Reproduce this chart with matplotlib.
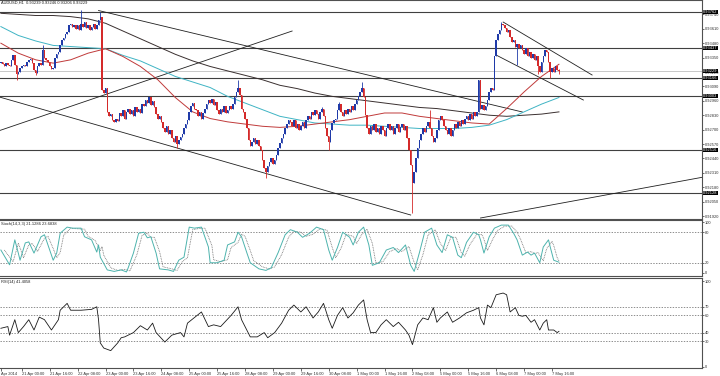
import numpy as np
import pandas as pd
import matplotlib
matplotlib.use('Agg')
import matplotlib.pyplot as plt
import matplotlib.transforms as mtransforms

plt.rcParams['font.family'] = ['Liberation Sans', 'DejaVu Sans']

# H1 closes, AUDUSD (bar 0 = 18 Apr 12:00)
closes = [
    0.9331, 0.9329, 0.9327, 0.9330, 0.9328, 0.9327, 0.9333, 0.9337, 0.9328, 0.9320,
    0.9322, 0.9326, 0.9327, 0.9328, 0.9327, 0.9331, 0.9333, 0.9334, 0.9330, 0.9324,
    0.9321, 0.9327, 0.9330, 0.9328, 0.9342, 0.9335, 0.9333, 0.9331, 0.9327, 0.9325,
    0.9326, 0.9335, 0.9338, 0.9340, 0.9346, 0.9351, 0.9353, 0.9356, 0.9358, 0.9364,
    0.9365, 0.9363, 0.9364, 0.9361, 0.9364, 0.9360, 0.9365, 0.9363, 0.9367, 0.9362,
    0.9364, 0.9360, 0.9363, 0.9365, 0.9361, 0.9364, 0.9369, 0.9372, 0.9306, 0.9303,
    0.9308, 0.9286, 0.9282, 0.9284, 0.9279, 0.9277, 0.9280, 0.9278, 0.9285, 0.9282,
    0.9288, 0.9280, 0.9286, 0.9289, 0.9284, 0.9288, 0.9282, 0.9290, 0.9286, 0.9289,
    0.9285, 0.9293, 0.9291, 0.9297, 0.9294, 0.9299, 0.9292, 0.9296, 0.9290, 0.9284,
    0.9280, 0.9282, 0.9277, 0.9271, 0.9268, 0.9273, 0.9266, 0.9270, 0.9262, 0.9259,
    0.9264, 0.9257, 0.9261, 0.9263, 0.9266, 0.9271, 0.9275, 0.9279, 0.9286, 0.9291,
    0.9294, 0.9289, 0.9288, 0.9282, 0.9286, 0.9280, 0.9285, 0.9289, 0.9293, 0.9297,
    0.9294, 0.9298, 0.9292, 0.9295, 0.9288, 0.9284, 0.9289, 0.9286, 0.9291, 0.9285,
    0.9288, 0.9291, 0.9289, 0.9293, 0.9299, 0.9304, 0.9308, 0.9301, 0.9289, 0.9286,
    0.9280, 0.9271, 0.9261, 0.9255, 0.9259, 0.9262, 0.9257, 0.9261, 0.9255, 0.9252,
    0.9243, 0.9235, 0.9232, 0.9237, 0.9241, 0.9244, 0.9239, 0.9243, 0.9247, 0.9253,
    0.9258, 0.9262, 0.9266, 0.9271, 0.9275, 0.9279, 0.9277, 0.9273, 0.9279, 0.9271,
    0.9275, 0.9270, 0.9273, 0.9277, 0.9271, 0.9279, 0.9282, 0.9280, 0.9286, 0.9283,
    0.9288, 0.9284, 0.9280, 0.9286, 0.9289, 0.9282, 0.9271, 0.9264, 0.9259, 0.9270,
    0.9276, 0.9279, 0.9280, 0.9288, 0.9293, 0.9286, 0.9282, 0.9288, 0.9284, 0.9289,
    0.9286, 0.9291, 0.9288, 0.9293, 0.9297, 0.9300, 0.9304, 0.9308, 0.9299, 0.9283,
    0.9271, 0.9266, 0.9273, 0.9270, 0.9275, 0.9268, 0.9271, 0.9266, 0.9273, 0.9270,
    0.9264, 0.9271, 0.9275, 0.9270, 0.9273, 0.9266, 0.9271, 0.9275, 0.9268, 0.9272,
    0.9275, 0.9270, 0.9273, 0.9262, 0.9252, 0.9238, 0.9222, 0.9232, 0.9244, 0.9253,
    0.9261, 0.9266, 0.9271, 0.9268, 0.9273, 0.9277, 0.9271, 0.9264, 0.9259, 0.9262,
    0.9270, 0.9279, 0.9282, 0.9279, 0.9273, 0.9270, 0.9266, 0.9271, 0.9264, 0.9270,
    0.9275, 0.9271, 0.9277, 0.9273, 0.9279, 0.9275, 0.9280, 0.9282, 0.9279, 0.9284,
    0.9280, 0.9286, 0.9282, 0.9286, 0.9315, 0.9289, 0.9292, 0.9288, 0.9291, 0.9297,
    0.9304, 0.9308, 0.9306, 0.9336, 0.9351, 0.9356, 0.9360, 0.9365, 0.9364, 0.9362,
    0.9358, 0.9360, 0.9354, 0.9349, 0.9351, 0.9345, 0.9347, 0.9344, 0.9346, 0.9342,
    0.9338, 0.9344, 0.9336, 0.9340, 0.9335, 0.9338, 0.9333, 0.9336, 0.9327, 0.9322,
    0.9331, 0.9336, 0.9342, 0.9340, 0.9331, 0.9322, 0.9326, 0.9322, 0.9327, 0.93239, 0.93229,
]
first_open = 0.9330
# visible wick extremes
wick_hi = {24: 0.9346, 46: 0.9378, 57: 0.9376, 136: 0.9315, 184: 0.9290, 194: 0.9295,
           207: 0.9313, 246: 0.9288, 287: 0.9367, 320: 0.93246}
wick_lo = {9: 0.9315, 20: 0.9319, 101: 0.9253, 152: 0.9226, 188: 0.9252, 236: 0.9195,
           296: 0.9328, 308: 0.9320, 315: 0.9317, 320: 0.93206}

# moving averages, read every 10 bars
ma_bars = list(range(0, 321, 10))
ma_red = [0.9348, 0.9339, 0.9333, 0.9330, 0.9333, 0.9339, 0.9343, 0.9336, 0.9327, 0.9315,
          0.9299, 0.9286, 0.9280, 0.9277, 0.9275, 0.9273, 0.9272, 0.9273, 0.9275, 0.9277,
          0.9279, 0.9282, 0.9285, 0.9285, 0.9282, 0.9280, 0.9278, 0.9276, 0.9275, 0.9289,
          0.9304, 0.9318, 0.9329]
ma_cyan = [0.9363, 0.9355, 0.9350, 0.9346, 0.9345, 0.9344, 0.9343, 0.9337, 0.9332, 0.9325,
           0.9318, 0.9313, 0.9308, 0.9300, 0.9294, 0.9288, 0.9282, 0.9279, 0.9276, 0.9275,
           0.9274, 0.9274, 0.9273, 0.9272, 0.9271, 0.9271, 0.9271, 0.9272, 0.9274, 0.9279,
           0.9286, 0.9293, 0.9299]
ma_dark = [0.9375, 0.9374, 0.9373, 0.9373, 0.9372, 0.9370, 0.9366, 0.9359, 0.9352, 0.9345,
           0.9338, 0.9332, 0.9327, 0.9323, 0.9319, 0.9315, 0.9310, 0.9307, 0.9303, 0.9300,
           0.9298, 0.9296, 0.9294, 0.9292, 0.9290, 0.9289, 0.9287, 0.9285, 0.9283, 0.9282,
           0.9283, 0.9284, 0.9286]

levels = [0.93762, 0.93437, 0.93166, 0.93003, 0.92516, 0.92128]
price_ticks = [0.91920, 0.92050, 0.92180, 0.92310, 0.92440, 0.92570, 0.92700, 0.92830,
               0.92960, 0.93090, 0.93220, 0.93350, 0.93480, 0.93610, 0.93740]

# trendlines: (bar, price) end points
trend_lines = [
    ((56, 0.93775), (299, 0.92859)),
    ((-1, 0.92995), (235, 0.91929)),
    ((-1, 0.92690), (167, 0.93590)),
    ((275, 0.91902), (403, 0.92272)),
    ((288, 0.93671), (339, 0.93193)),
    ((284, 0.93373), (334, 0.92967)),
]

stoch_k_bars = [0, 5, 8, 10, 11, 14, 16, 19, 23, 25, 28, 30, 32, 34, 38, 41, 46, 48, 52, 55,
                56, 57, 61, 65, 69, 72, 73, 76, 79, 82, 84, 86, 89, 91, 96, 99, 102, 105, 108, 111,
                115, 119, 120, 124, 128, 130, 134, 136, 138,
                141, 143, 148, 152, 155, 159, 163, 166, 170, 173, 177, 181, 185, 188, 190, 193, 196, 200, 202, 205,
                208, 211, 213, 217, 221, 225, 228, 232, 235, 237, 240, 243, 247, 250, 253, 256, 259, 262, 264, 267,
                271, 274, 275, 277, 280, 283, 287, 291, 294, 296, 299, 302, 304, 306, 309, 311, 314, 315, 317, 320]
stoch_k_vals = [45, 16, 65, 39, 25, 59, 61, 39, 71, 75, 45, 25, 39, 78, 90, 88, 88, 71, 65, 41,
                55, 31, 6, 3, 6, 2, 10, 39, 78, 80, 69, 71, 39, 8, 6, 3, 25, 31, 90, 88,
                90, 51, 20, 20, 25, 55, 61, 80, 71,
                40, 20, 8, 5, 10, 40, 75, 85, 80, 70, 78, 90, 85, 45, 25, 50, 80, 70, 55, 80,
                90, 55, 15, 20, 45, 50, 40, 55, 15, 3, 40, 80, 88, 55, 40, 75, 70, 35, 30, 60,
                80, 75, 65, 39, 71, 88, 94, 94, 78, 65, 35, 41, 35, 39, 20, 51, 65, 51, 25, 21.1286]
stoch_d_bars = [2, 7, 10, 12, 13, 16, 18, 21, 25, 27, 30, 32, 34, 36, 40, 43, 48, 50, 54, 57,
                58, 59, 63, 67, 71, 74, 75, 78, 81, 84, 86, 88, 91, 93, 98, 101, 104, 107, 110, 113,
                117, 121, 122, 126, 130, 132, 136, 138, 140,
                143, 145, 150, 154, 157, 161, 165, 168, 172, 175, 179, 183, 187, 190, 192, 195, 198, 202, 204, 207,
                210, 213, 215, 219, 223, 227, 230, 234, 237, 239, 242, 245, 249, 252, 255, 258, 261, 264, 266, 269,
                273, 276, 277, 279, 282, 285, 289, 293, 296, 298, 301, 304, 306, 308, 311, 313, 316, 317, 319, 320]
stoch_d_vals = [45, 22, 58, 40, 30, 55, 58, 42, 68, 72, 48, 30, 40, 74, 88, 87, 86, 72, 64, 44,
                52, 35, 10, 5, 7, 4, 12, 36, 74, 78, 70, 70, 42, 12, 8, 5, 22, 30, 85, 87,
                88, 54, 26, 22, 26, 50, 60, 76, 72,
                44, 24, 12, 8, 12, 36, 70, 82, 80, 72, 76, 87, 84, 50, 30, 48, 76, 72, 58, 76,
                86, 58, 20, 22, 42, 48, 42, 52, 20, 6, 36, 75, 85, 58, 44, 70, 70, 40, 33, 56,
                76, 75, 66, 44, 66, 84, 92, 92, 80, 66, 40, 42, 38, 40, 24, 48, 62, 54, 30, 23.6838]

rsi_bars = [0, 4, 5, 8, 10, 13, 16, 19, 22, 25, 29, 33, 34, 38, 40, 46, 52, 55, 56, 57,
            59, 63, 67, 69, 71, 76, 80, 84, 87, 89, 94, 98, 103, 105, 107, 115, 119, 122, 126, 132,
            136, 138, 141, 143, 147, 151, 153, 157, 161, 165, 168, 172, 175, 179, 182, 185, 188, 190, 193, 196,
            199, 202, 205, 208, 210, 212, 215, 218, 221, 225, 228, 232, 234, 236, 239, 242, 245, 248, 250, 252,
            256, 259, 263, 267, 271, 274, 275, 277, 279, 281, 284, 288, 290, 292, 295, 297, 299, 301, 304, 306,
            309, 311, 313, 314, 317, 319, 320]
rsi_vals = [45, 47, 37, 55, 40, 47, 55, 43, 58, 55, 43, 55, 66, 74, 66, 66, 67, 70, 55, 28,
            22, 19, 28, 34, 35, 40, 48, 43, 51, 40, 29, 37, 40, 35, 51, 64, 47, 49, 47, 60,
            70, 55, 43, 35, 35, 40, 34, 40, 51, 66, 72, 64, 70, 57, 64, 74, 55, 45, 60, 69,
            57, 63, 72, 78, 55, 40, 40, 49, 55, 47, 52, 43, 37, 26, 49, 57, 55, 69, 52, 57,
            64, 52, 57, 63, 66, 69, 57, 49, 72, 69, 84, 86, 84, 64, 69, 60, 59, 60, 52, 55,
            43, 51, 55, 43, 43, 40, 41.4058]

BLUE = '#1f3aa8'
RED = '#d42a2a'
FS = 2.9

c = np.array(closes)
n = len(c)
idx = np.arange(n)
o = np.r_[first_open, c[:-1]]
body_lo = np.minimum(o, c)
body_hi = np.maximum(o, c)
hi = body_hi.copy()
lo = body_lo.copy()
for k, v in wick_hi.items():
    hi[k] = v
for k, v in wick_lo.items():
    lo[k] = v
col = np.where(c >= o, BLUE, RED)

# hourly bars, weekends skipped
times = pd.date_range('2014-04-18 12:00', '2014-05-09 00:00', freq='h')
times = times[times.dayofweek < 5][:n]
tick_bars = [0] + list(range(12, n, 16))
tick_labels = [times[0].strftime('%b %Y')] + \
    [f"{times[i].day} {times[i]:%b %H:%M}" for i in tick_bars[1:]]

fig = plt.figure(figsize=(7.2, 3.76), dpi=100)
W = 702 / 720
xmax = 702 / 1.744 - 0.5
ax = fig.add_axes([0, 1 - 219 / 376, W, 219 / 376])
ax_st = fig.add_axes([0, 1 - 276 / 376, W, 56 / 376])
ax_rsi = fig.add_axes([0, 1 - 368 / 376, W, 90 / 376])

for a in (ax, ax_st, ax_rsi):
    a.set_xlim(-0.5, xmax)
    a.spines['left'].set_visible(False)
    for s in ('right', 'top', 'bottom'):
        a.spines[s].set_color('#505050')
        a.spines[s].set_linewidth(0.8)
    a.yaxis.tick_right()
    a.tick_params(axis='y', labelsize=FS, length=1.5, width=0.5, pad=0.5, colors='#303030')
    a.set_facecolor('white')

# ---- price panel
ax.set_ylim(0.91893, 0.93870)
ax.set_xticks([])
ax.set_yticks(price_ticks)
ax.set_yticklabels([f'{p:.5f}' for p in price_ticks])

for lv in levels:
    ax.axhline(lv, color='#404040', lw=0.8, zorder=1)
ax.axhline(c[-1], color='#c8c8c8', lw=0.7, zorder=1)

for (x0, y0), (x1, y1) in trend_lines:
    ax.plot([x0, x1], [y0, y1], color='#202020', lw=0.6, zorder=2)

ax.plot(ma_bars, ma_dark, color='#3a3030', lw=0.7, zorder=2)
ax.plot(ma_bars, ma_cyan, color='#3fb4c4', lw=0.7, zorder=2)
ax.plot(ma_bars, ma_red, color='#c03a3a', lw=0.7, zorder=2)

ax.vlines(idx, lo, hi, colors=col, lw=0.6, zorder=3)
ax.bar(idx, np.maximum(body_hi - body_lo, 0.00008), bottom=body_lo, width=0.85,
       color=col, lw=0, zorder=3)

tr = mtransforms.blended_transform_factory(ax.transAxes, ax.transData)
for lv in levels + [c[-1]]:
    ax.text(1.0015, lv, f'{lv:.5f}', transform=tr, fontsize=FS, color='white',
            va='center', ha='left', clip_on=False, zorder=6,
            bbox=dict(boxstyle='square,pad=0.08', fc='black', ec='none'))

ax.text(0.002, 0.997, f'AUDUSD,H1  {o[-1]:.5f} {hi[-1]:.5f} {lo[-1]:.5f} {c[-1]:.5f}',
        transform=ax.transAxes, fontsize=FS, va='top', ha='left', color='#202020')

# ---- stochastic
ax_st.set_ylim(-6, 104)
ax_st.set_xticks([])
ax_st.set_yticks([0, 20, 80, 100])
for lv in (20, 80):
    ax_st.axhline(lv, color='#606060', lw=0.5, ls=(0, (2, 2)))
ax_st.plot(stoch_d_bars, stoch_d_vals, color='#707070', lw=0.6, ls=(0, (1, 1)))
ax_st.plot(stoch_k_bars, stoch_k_vals, color='#4db3ad', lw=0.7)
ax_st.text(0.002, 0.97, f'Stoch(14,3,3) {stoch_k_vals[-1]:.4f} {stoch_d_vals[-1]:.4f}',
           transform=ax_st.transAxes, fontsize=FS, va='top', ha='left', color='#202020')

# ---- RSI
ax_rsi.set_ylim(-1.2, 103.5)
ax_rsi.set_yticks([0, 30, 40, 60, 70, 100])
for lv in (30, 40, 60, 70):
    ax_rsi.axhline(lv, color='#606060', lw=0.5, ls=(0, (2, 2)))
ax_rsi.plot(rsi_bars, rsi_vals, color='#1a1a1a', lw=0.6)
ax_rsi.text(0.002, 0.975, f'RSI(14) {rsi_vals[-1]:.4f}',
            transform=ax_rsi.transAxes, fontsize=FS, va='top', ha='left', color='#202020')
ax_rsi.set_xticks(tick_bars)
ax_rsi.set_xticklabels(tick_labels, ha='left')
ax_rsi.tick_params(axis='x', labelsize=FS, length=2, width=0.5, pad=0.8, colors='#303030')

fig.savefig('out.png', dpi=100)
